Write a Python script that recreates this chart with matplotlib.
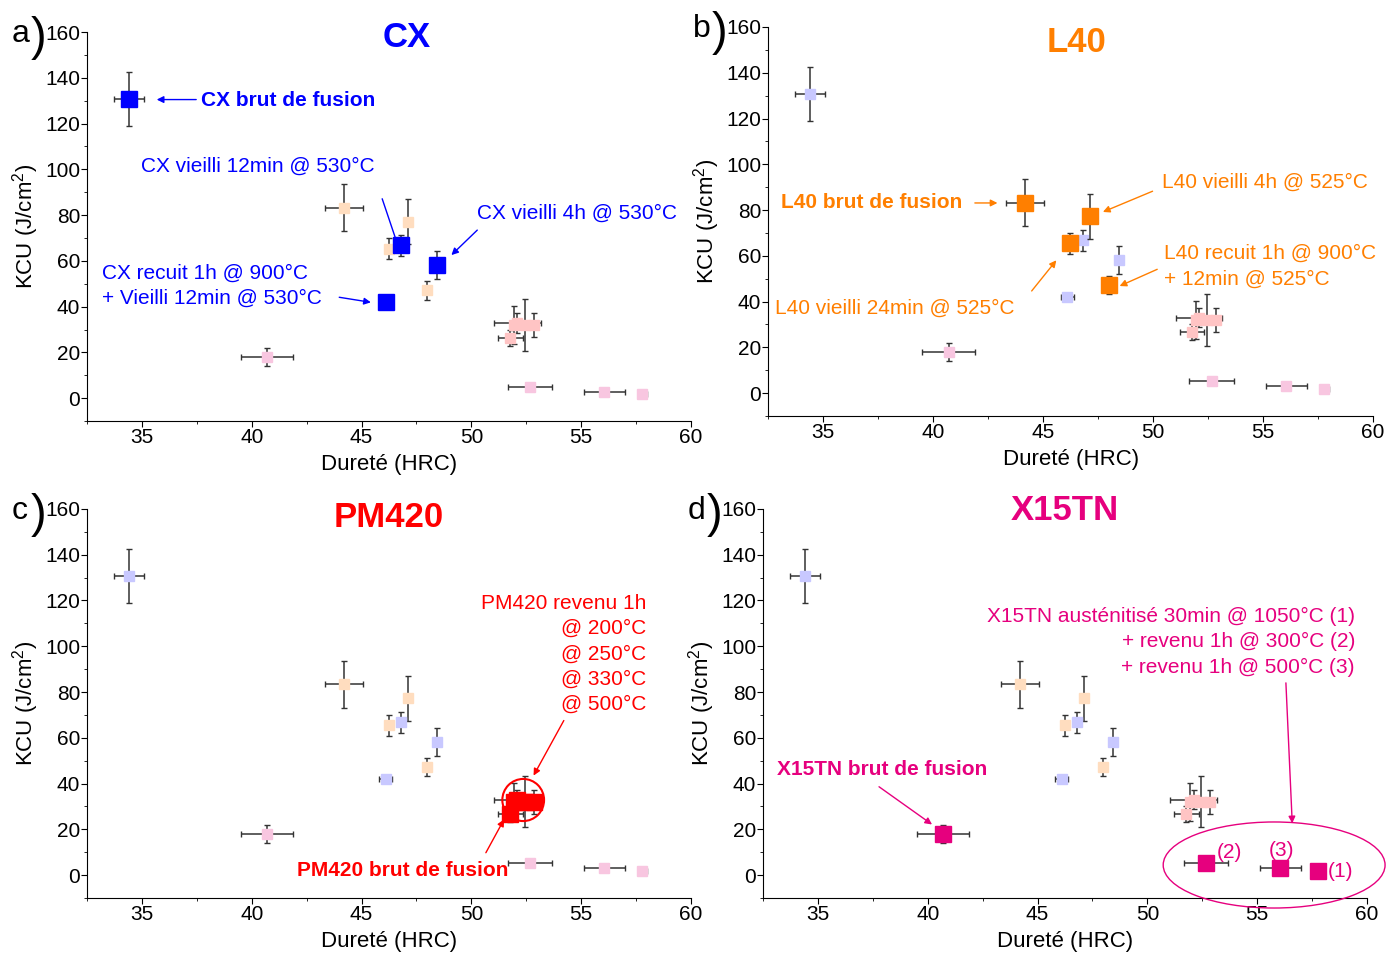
import matplotlib
matplotlib.use("Agg")
from matplotlib import pyplot as plt
from matplotlib.patches import Ellipse
from matplotlib.ticker import MultipleLocator

plt.rcParams['font.family'] = ['Liberation Sans', 'DejaVu Sans']
plt.rcParams['mathtext.fontset'] = 'custom'
plt.rcParams['mathtext.rm'] = 'Liberation Sans'
plt.rcParams['mathtext.it'] = 'Liberation Sans:italic'

# data
cx_x = [34.41, 46.8, 48.43, 46.1]
cx_y = [130.8, 66.8, 58.2, 42.1]
cx_xerr = [0.68, 0.2, 0.15, 0.3]
cx_yerr = [11.7, 4.6, 6.2, 1.0]

l40_x = [44.19, 47.11, 46.24, 47.98]
l40_y = [83.3, 77.2, 65.4, 47.1]
l40_xerr = [0.86, 0.15, 0.15, 0.15]
l40_yerr = [10.1, 9.9, 4.5, 4.0]

pm_x = [51.77, 51.95, 52.1, 52.45, 52.85]
pm_y = [26.5, 32.0, 33.0, 32.0, 32.0]
pm_xerr = [0.56, 0.15, 1.05, 0.15, 0.2]
pm_yerr = [3.5, 8.3, 4.3, 11.2, 5.2]

x15_x = [40.7, 52.67, 56.05, 57.78]
x15_y = [18.0, 5.1, 2.9, 1.75]
x15_xerr = [1.19, 1.02, 0.93, 0.2]
x15_yerr = [4.0, 1.2, 1.2, 0.8]

alloys = ["CX", "L40", "PM420", "X15TN"]
strong = {"CX": "#0000FF", "L40": "#FF7F00", "PM420": "#FF0000", "X15TN": "#E6007E"}
light = {"CX": "#C8C8FF", "L40": "#FFDDBF", "PM420": "#FFC4C4", "X15TN": "#F8C6E0"}
series = {
    "CX": (cx_x, cx_y, cx_xerr, cx_yerr),
    "L40": (l40_x, l40_y, l40_xerr, l40_yerr),
    "PM420": (pm_x, pm_y, pm_xerr, pm_yerr),
    "X15TN": (x15_x, x15_y, x15_xerr, x15_yerr),
}

fig = plt.figure(figsize=(13.89, 9.57), dpi=100)
boxes = [
    [0.0626, 0.560, 0.4349, 0.4065],
    [0.553, 0.5653, 0.4356, 0.4065],
    [0.0626, 0.0617, 0.4349, 0.4065],
    [0.5493, 0.0617, 0.4349, 0.4065],
]
letters = ["a", "b", "c", "d"]
title_pos = [(0.53, 0.987), (0.51, 0.961), (0.50, 0.977), (0.50, 0.997)]
FS = 15
LS = 1.42


def draw_panel(ax, hl):
    for name in alloys:
        x, y, xe, ye = series[name]
        big = name == hl
        ax.errorbar(x, y, xerr=xe, yerr=ye, fmt="s",
                    ms=11 if big else 7,
                    mfc=strong[name] if big else light[name],
                    mec=strong[name] if big else light[name],
                    ecolor="#333333", elinewidth=1.1, capsize=2, capthick=1,
                    zorder=5 if big else 3)
    ax.set_xlim(32.5, 60)
    ax.set_ylim(-10, 160)
    ax.xaxis.set_major_locator(MultipleLocator(5))
    ax.xaxis.set_minor_locator(MultipleLocator(2.5))
    ax.yaxis.set_minor_locator(MultipleLocator(10))
    ax.set_yticks(range(0, 161, 20))
    ax.tick_params(which="both", direction="out", labelsize=15, pad=1)
    ax.tick_params(which="major", length=4)
    ax.tick_params(which="minor", length=2)
    for s in ["top", "right"]:
        ax.spines[s].set_visible(False)
    ax.set_xlabel("Dureté (HRC)", fontsize=16, labelpad=5)
    ax.set_ylabel("KCU (J/cm$^2$)", fontsize=16, labelpad=3)


axes = []
for i, name in enumerate(alloys):
    ax = fig.add_axes(boxes[i])
    draw_panel(ax, name)
    ax.text(title_pos[i][0], title_pos[i][1], name, transform=ax.transAxes,
            color=strong[name], fontsize=25, fontweight="bold",
            ha="center", va="center")
    ax.text(-0.125, 0.995, letters[i], transform=ax.transAxes, fontsize=23,
            va="center", ha="left")
    ax.text(-0.093, 0.985, ")", transform=ax.transAxes, fontsize=34,
            va="center", ha="left")
    axes.append(ax)

ap = dict(arrowstyle="-|>", lw=1, mutation_scale=10)

# panel a
ax = axes[0]
c = strong["CX"]
ax.text(37.68, 130.0, "CX brut de fusion", color=c, fontsize=FS,
        fontweight="bold", va="center")
ax.annotate("", xy=(35.55, 130.5), xytext=(37.6, 130.5), arrowprops=dict(ap, color=c))
ax.text(34.95, 101.3, "CX vieilli 12min @ 530°C", color=c, fontsize=FS, va="center")
ax.annotate("", xy=(46.77, 63.5), xytext=(45.9, 88.3), arrowprops=dict(ap, color=c))
ax.text(50.27, 80.9, "CX vieilli 4h @ 530°C", color=c, fontsize=FS, va="center")
ax.annotate("", xy=(49.0, 61.7), xytext=(50.36, 74.3), arrowprops=dict(ap, color=c))
ax.text(33.18, 49.0, "CX recuit 1h @ 900°C\n+ Vieilli 12min @ 530°C", color=c,
        fontsize=FS, va="center", linespacing=LS)
ax.annotate("", xy=(45.55, 41.7), xytext=(43.86, 44.3), arrowprops=dict(ap, color=c))

# panel b
ax = axes[1]
c = strong["L40"]
ax.text(33.09, 83.1, "L40 brut de fusion", color=c, fontsize=FS,
        fontweight="bold", va="center")
ax.annotate("", xy=(43.05, 83.1), xytext=(41.77, 83.1), arrowprops=dict(ap, color=c))
ax.text(50.4, 92.2, "L40 vieilli 4h @ 525°C", color=c, fontsize=FS, va="center")
ax.annotate("", xy=(47.6, 78.7), xytext=(50.09, 88.7), arrowprops=dict(ap, color=c))
ax.text(32.8, 37.2, "L40 vieilli 24min @ 525°C", color=c, fontsize=FS, va="center")
ax.annotate("", xy=(45.68, 59.0), xytext=(44.4, 43.7), arrowprops=dict(ap, color=c))
ax.text(50.5, 55.5, "L40 recuit 1h @ 900°C\n+ 12min @ 525°C", color=c,
        fontsize=FS, va="center", linespacing=LS)
ax.annotate("", xy=(48.36, 46.3), xytext=(50.3, 54.6), arrowprops=dict(ap, color=c))

# panel c
ax = axes[2]
c = strong["PM420"]
ax.text(57.95, 96.6, "PM420 revenu 1h\n@ 200°C\n@ 250°C\n@ 330°C\n@ 500°C",
        color=c, fontsize=FS, va="center", ha="right", linespacing=LS)
ax.annotate("", xy=(52.77, 42.4), xytext=(54.27, 68.6), arrowprops=dict(ap, color=c))
ax.add_patch(Ellipse((52.36, 32.8), 1.9, 18.4, fill=False, ec=c, lw=1.5, zorder=6))
ax.text(42.05, 2.2, "PM420 brut de fusion", color=c, fontsize=FS,
        fontweight="bold", va="center")
ax.annotate("", xy=(51.55, 25.4), xytext=(50.6, 8.7), arrowprops=dict(ap, color=c))

# panel d
ax = axes[3]
c = strong["X15TN"]
ax.text(59.45, 101.9, "X15TN austénitisé 30min @ 1050°C (1)\n+ revenu 1h @ 300°C (2)\n"
        "+ revenu 1h @ 500°C (3)", color=c, fontsize=FS, va="center", ha="right",
        linespacing=LS)
ax.annotate("", xy=(56.6, 21.4), xytext=(56.3, 85.2), arrowprops=dict(ap, color=c))
ax.text(33.14, 46.3, "X15TN brut de fusion", color=c, fontsize=FS,
        fontweight="bold", va="center")
ax.annotate("", xy=(40.3, 21.4), xytext=(37.68, 39.3), arrowprops=dict(ap, color=c))
ax.add_patch(Ellipse((55.77, 4.4), 10.1, 37.6, fill=False, ec=c, lw=1,
                     clip_on=False, zorder=6))
ax.text(53.73, 10.0, "(2)", color=c, fontsize=FS, va="center", ha="center")
ax.text(56.1, 10.9, "(3)", color=c, fontsize=FS, va="center", ha="center")
ax.text(58.77, 1.7, "(1)", color=c, fontsize=FS, va="center", ha="center")

fig.savefig("out.png", dpi=100)
